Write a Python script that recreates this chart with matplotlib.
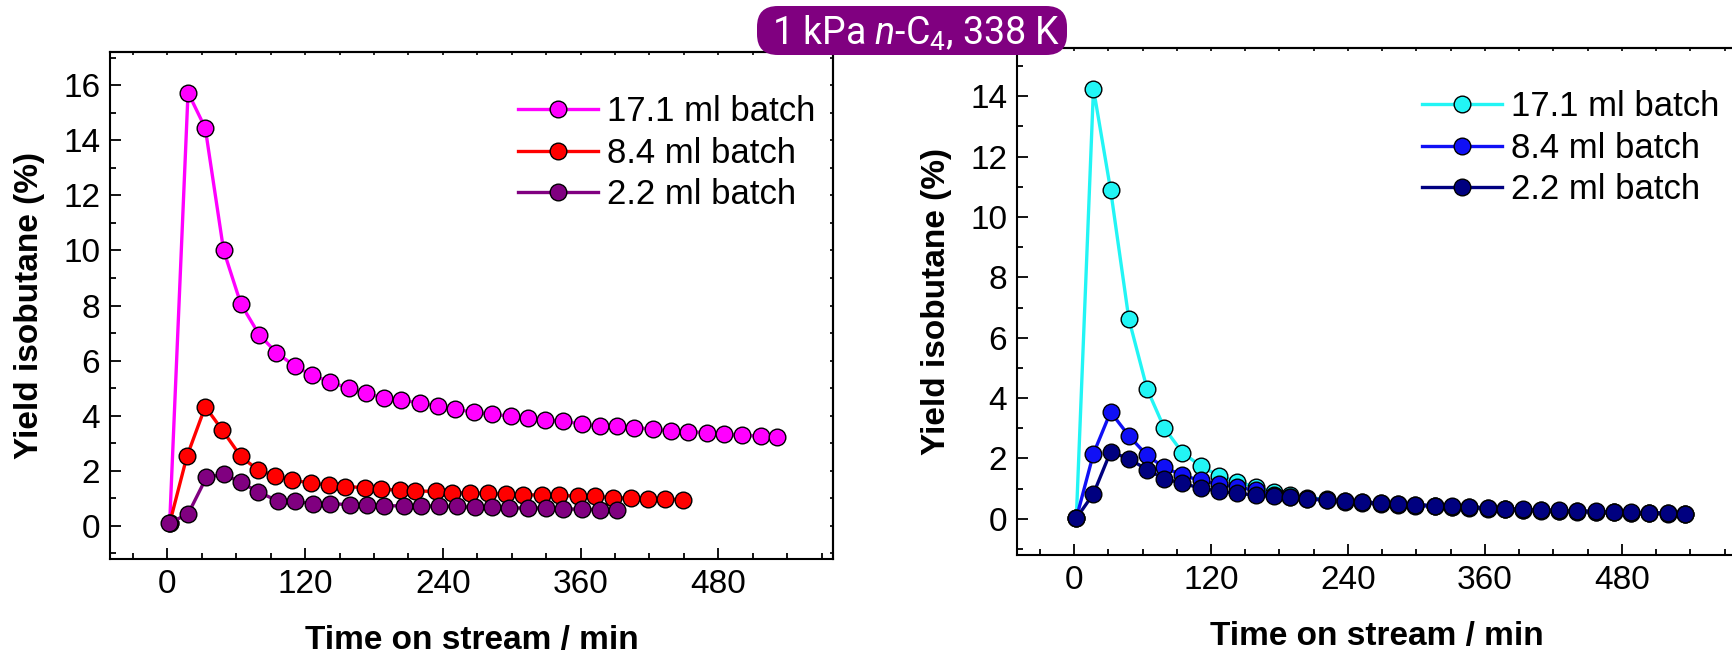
import matplotlib
matplotlib.use("Agg")
import matplotlib.pyplot as plt
from matplotlib.ticker import MultipleLocator
from matplotlib.patches import FancyBboxPatch

# ---------------- data ----------------
labels = ["17.1 ml batch", "8.4 ml batch", "2.2 ml batch"]

# left panel (magenta / red / purple)
t_L171 = [2, 18, 33, 49, 64, 80, 95, 111, 126, 142, 158, 173, 189, 204, 220, 236, 251, 267,
          283, 299, 314, 329, 345, 361, 377, 392, 407, 423, 439, 454, 470, 485, 501, 517, 531]
y_L171 = [0.1, 15.73, 14.44, 10.0, 8.06, 6.94, 6.29, 5.80, 5.47, 5.23,
          4.99, 4.81, 4.65, 4.56, 4.47, 4.35, 4.23, 4.13, 4.05, 3.99,
          3.91, 3.83, 3.81, 3.69, 3.63, 3.63, 3.57, 3.51, 3.45, 3.42,
          3.39, 3.33, 3.29, 3.26, 3.23]
t_L84 = [2, 17, 33, 48, 64, 79, 94, 109, 125, 141, 155, 172, 186, 203, 216, 234, 248, 264,
         279, 295, 310, 326, 341, 358, 373, 388, 404, 419, 434, 449]
y_L84 = [0.1, 2.52, 4.33, 3.47, 2.52, 2.03, 1.82, 1.67, 1.55, 1.49,
         1.43, 1.39, 1.33, 1.30, 1.27, 1.25, 1.21, 1.19, 1.18, 1.15,
         1.13, 1.12, 1.12, 1.07, 1.07, 1.03, 1.00, 0.97, 0.97, 0.95]
t_L22 = [1, 18, 34, 49, 64, 79, 96, 111, 127, 142, 159, 174, 189, 206, 221, 237, 252, 268,
         283, 298, 314, 330, 345, 361, 377, 392]
y_L22 = [0.1, 0.43, 1.76, 1.88, 1.58, 1.24, 0.91, 0.89, 0.81, 0.81,
         0.77, 0.77, 0.73, 0.73, 0.73, 0.71, 0.71, 0.67, 0.67, 0.65,
         0.65, 0.65, 0.61, 0.61, 0.58, 0.58]

# right panel (cyan / blue / navy)
t_R = [2, 17, 32, 48, 64, 79, 95, 111, 127, 143, 159, 175, 189, 204, 222, 237, 252, 269,
       284, 299, 316, 331, 346, 363, 378, 393, 409, 425, 441, 457, 473, 488, 504, 520, 535]
y_R171 = [0.03, 14.25, 10.90, 6.62, 4.30, 3.01, 2.19, 1.75, 1.42, 1.22,
          1.06, 0.88, 0.78, 0.70, 0.64, 0.58, 0.54, 0.51, 0.48, 0.45,
          0.43, 0.40, 0.38, 0.35, 0.32, 0.30, 0.28, 0.27, 0.25, 0.23,
          0.22, 0.20, 0.19, 0.18, 0.16]
y_R84 = [0.02, 2.16, 3.54, 2.75, 2.10, 1.70, 1.44, 1.27, 1.14, 1.05,
         0.94, 0.80, 0.73, 0.66, 0.61, 0.56, 0.52, 0.50, 0.47, 0.44,
         0.41, 0.39, 0.36, 0.34, 0.32, 0.29, 0.27, 0.26, 0.24, 0.22,
         0.21, 0.20, 0.19, 0.17, 0.15]
y_R22 = [0.02, 0.83, 2.22, 1.99, 1.63, 1.33, 1.17, 1.02, 0.91, 0.85,
         0.78, 0.75, 0.72, 0.67, 0.63, 0.59, 0.55, 0.53, 0.50, 0.47,
         0.44, 0.42, 0.39, 0.37, 0.34, 0.31, 0.28, 0.28, 0.26, 0.25,
         0.22, 0.22, 0.20, 0.19, 0.17]

colors_L = ["#FF00FF", "#FF0000", "#800080"]
colors_R = ["#22F5F5", "#1010F5", "#000080"]

title = "1 kPa $\\mathit{n}$-C$_4$, 338 K"
xlabel = "Time on stream / min"
ylabel = "Yield isobutane (%)"

# ---------------- style ----------------
plt.rcParams['font.family'] = ['Liberation Sans', 'DejaVu Sans']
plt.rcParams['mathtext.fontset'] = 'custom'
plt.rcParams['mathtext.rm'] = 'Roboto'
plt.rcParams['mathtext.it'] = 'Roboto:italic'

W, H = 1732, 655
fig = plt.figure(figsize=(W / 100, H / 100), dpi=100)

def px_axes(x0, x1, ytop, ybot):
    return fig.add_axes([x0 / W, 1 - ybot / H, (x1 - x0) / W, (ybot - ytop) / H])

axL = px_axes(110, 833, 52, 559)
axR = px_axes(1017, 1736, 48, 555)

def style(ax, ylim, ymaj):
    ax.set_xlim(-50, 580)
    ax.set_ylim(*ylim)
    ax.xaxis.set_major_locator(MultipleLocator(120))
    ax.xaxis.set_minor_locator(MultipleLocator(30))
    ax.yaxis.set_major_locator(MultipleLocator(ymaj))
    ax.yaxis.set_minor_locator(MultipleLocator(ymaj / 2))
    ax.tick_params(which='major', direction='in', length=8, width=1.3, labelsize=24, pad=7)
    ax.tick_params(which='minor', direction='in', length=4, width=1.3)
    for s in ax.spines.values():
        s.set_linewidth(1.5)
    top = ax.secondary_xaxis('top')
    top.xaxis.set_major_locator(MultipleLocator(30))
    top.tick_params(direction='in', length=2.5, width=1.2, labeltop=False)
    top.spines['top'].set_linewidth(1.5)
    right = ax.secondary_yaxis('right')
    right.yaxis.set_major_locator(MultipleLocator(ymaj / 2))
    right.tick_params(direction='in', length=2.5, width=1.2, labelright=False)
    right.spines['right'].set_linewidth(1.5)
    ax.set_xlabel(xlabel, fontsize=24, fontweight='bold')
    ax.set_ylabel(ylabel, fontsize=24, fontweight='bold')
    ax.xaxis.set_label_coords(0.5, -0.13)
    ax.xaxis.label.set_va('top')
    ax.yaxis.set_label_coords(-0.09, 0.5)

style(axL, (-1.2, 17.2), 2)
style(axR, (-1.2, 15.6), 2)

def series(ax, t, y, c, lab):
    ax.plot(t, y, '-', color=c, lw=2.4, marker='o', ms=12, mfc=c, mec='black',
            mew=1.0, label=lab, clip_on=False)

for t, y, c, lab in zip([t_L171, t_L84, t_L22], [y_L171, y_L84, y_L22], colors_L, labels):
    series(axL, t, y, c, lab)
for y, c, lab in zip([y_R171, y_R84, y_R22], colors_R, labels):
    series(axR, t_R, y, c, lab)

legkw = dict(loc='upper right', frameon=False, fontsize=25, handlelength=2.3,
             handletextpad=0.25, labelspacing=0.25, borderpad=0, borderaxespad=0)
axL.legend(bbox_to_anchor=(815 / W, 1 - 95 / H), bbox_transform=fig.transFigure, **legkw)
axR.legend(bbox_to_anchor=(1719 / W, 1 - 90 / H), bbox_transform=fig.transFigure, **legkw)

# title badge
bx0, bx1, by0, by1 = 757, 1067, 6, 55
badge = FancyBboxPatch((bx0 / W, 1 - by1 / H), (bx1 - bx0) / W, (by1 - by0) / H,
                       boxstyle='round,pad=0,rounding_size=0.012', transform=fig.transFigure,
                       fc='#800080', ec='none', zorder=9, mutation_aspect=W / H)
fig.patches.append(badge)
fig.text(916 / W, 1 - 45 / H, title, ha='center', va='baseline', color='white',
         fontsize=27, family='Roboto', zorder=10)

fig.savefig('out.png', dpi=100)
